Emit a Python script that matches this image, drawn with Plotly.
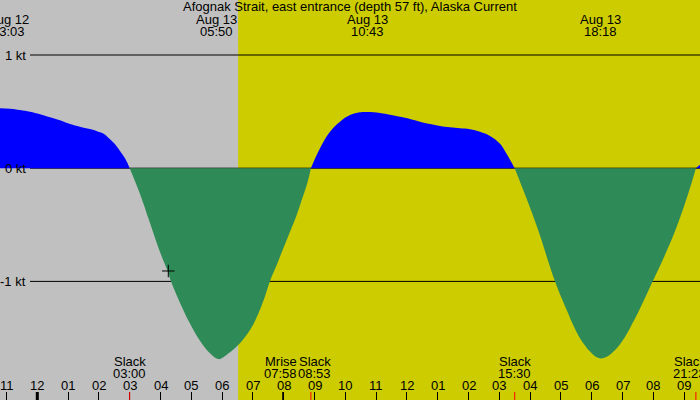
import numpy as np
import pandas as pd
import plotly.graph_objects as go

# ---- data (hours after midnight, Aug 13) ----
BASE = pd.Timestamp("2024-08-13 00:00")
hours = [-1.211, -0.886, -0.562, -0.237, 0.088, 0.412, 0.737, 1.062, 1.386, 1.711,
         2.036, 2.198, 2.360, 2.523, 2.685, 2.847, 3.000,
         3.334, 3.659, 3.984, 4.244, 4.341, 4.740, 5.013, 5.338, 5.607, 5.870,
         6.030, 6.190, 6.516, 6.906, 7.156, 7.370, 7.555, 7.773, 7.987, 8.205, 8.422,
         8.604, 8.779, 8.883,
         9.179, 9.503, 9.828, 10.153, 10.477, 10.717, 11.127, 11.451, 11.776,
         12.101, 12.425, 12.750, 13.075, 13.399, 13.724, 14.049, 14.373, 14.698,
         15.023, 15.240, 15.500,
         15.818, 16.224, 16.808, 17.188, 17.425, 17.727, 18.000, 18.150, 18.300,
         18.470, 18.649, 18.942, 19.266, 19.545, 19.981, 20.305, 20.760, 21.136, 21.383,
         21.516]
knots = [0.529, 0.526, 0.514, 0.499, 0.476, 0.450, 0.423, 0.390, 0.367, 0.346,
         0.317, 0.296, 0.255, 0.211, 0.152, 0.087, 0.0,
         -0.228, -0.484, -0.740, -0.917, -0.999, -1.253, -1.400, -1.547, -1.635, -1.686,
         -1.672, -1.640, -1.565, -1.430, -1.297, -1.149, -0.996, -0.855, -0.708, -0.561, -0.413,
         -0.266, -0.119, 0.0,
         0.176, 0.322, 0.411, 0.470, 0.494, 0.496, 0.488, 0.473, 0.455,
         0.435, 0.411, 0.390, 0.373, 0.361, 0.352, 0.344, 0.322, 0.285,
         0.215, 0.125, 0.0,
         -0.222, -0.517, -0.999, -1.253, -1.400, -1.547, -1.635, -1.668, -1.680,
         -1.668, -1.635, -1.547, -1.400, -1.253, -0.999, -0.811, -0.517, -0.222, 0.0,
         0.03]

x_range_h = [-1.211, 21.516]
sunrise_h = 6.52
hour_ticks = list(range(-1, 22))

levels = [1, 0, -1]
level_labels = ["1 kt", "0 kt", "-1 kt"]

peak_h = [-0.95, 5.833, 10.717, 18.300]
peak_day = ["Aug 12", "Aug 13", "Aug 13", "Aug 13"]
peak_time = ["23:03", "05:50", "10:43", "18:18"]

event_h = [3.000, 7.967, 8.883, 15.500, 21.383]
event_name = ["Slack", "Mrise", "Slack", "Slack", "Slack"]
event_time = ["03:00", "07:58", "08:53", "15:30", "21:23"]
event_shift = [0, -2, 4, 0, -6]

now_h = [4.253]
now_kt = [-0.908]

title = "Afognak Strait, east entrance (depth 57 ft), Alaska Current"

# ---- styling ----
W, H = 700, 400
GRAY = "#C0C0C0"
YELLOW = "#CCCC00"
BLUE = "#0000FF"
GREEN = "#2E8B57"
FONT = "Liberation Sans, Arial, sans-serif"
FS = 13
zero_px, px_per_kt = 168.2, 113.2
y_range = [(zero_px - H) / px_per_kt, zero_px / px_per_kt]


def t(h):
    return BASE + pd.to_timedelta(np.asarray(h, dtype=float), unit="h")


def py(p):
    return 1 - p / H


def fnt():
    return dict(size=FS, color="black", family=FONT)


times = t(hours)
fig = go.Figure()

# split the series into flood / ebb lobes at slack (zero) points
lobes, cur = [], [0]
for i in range(1, len(knots)):
    cur.append(i)
    if knots[i] == 0 and i != len(knots) - 1:
        lobes.append(cur)
        cur = [i]
lobes.append(cur)
for idx in lobes:
    vals = [knots[i] for i in idx]
    col = BLUE if sum(vals) > 0 else GREEN
    fig.add_trace(go.Scatter(x=[times[i] for i in idx], y=vals, mode="lines",
                             line=dict(color=col, width=0, shape="spline", smoothing=1.2),
                             fill="tozeroy", fillcolor=col, hoverinfo="skip",
                             showlegend=False))

fig.add_trace(go.Scatter(x=t(now_h), y=now_kt, mode="markers",
                         marker=dict(symbol="cross-thin", size=9,
                                     line=dict(color="black", width=1)),
                         showlegend=False, hoverinfo="skip"))

shapes = [dict(type="rect", xref="x", yref="paper", x0=t(x_range_h[0]), x1=t(sunrise_h),
               y0=0, y1=1, fillcolor=GRAY, line=dict(width=0), layer="below")]
for lv in levels:
    shapes.append(dict(type="line", xref="paper", yref="y", x0=30 / W, x1=1, y0=lv, y1=lv,
                       line=dict(color="black", width=1), layer="below"))
tick_h = 8 / H
shapes.append(dict(type="line", xref="x", yref="paper", x0=BASE, x1=BASE, y0=0, y1=tick_h,
                   line=dict(color="black", width=3)))
for h, nm in zip(event_h, event_name):
    shapes.append(dict(type="line", xref="x", yref="paper", x0=t(h), x1=t(h), y0=0, y1=tick_h,
                       line=dict(color="red" if nm == "Slack" else "black", width=1)))

ann = [dict(text=title, x=0.5, y=py(7), xref="paper", yref="paper", showarrow=False,
            yanchor="middle", font=fnt())]
for lv, lab in zip(levels, level_labels):
    ann.append(dict(text=lab, x=28 / W, y=lv, xref="paper", yref="y", xanchor="right",
                    yanchor="middle", showarrow=False, font=fnt()))
for h, d, tm in zip(peak_h, peak_day, peak_time):
    for txt, p in ((d, 19.5), (tm, 31.5)):
        ann.append(dict(text=txt, x=t(h), y=py(p), xref="x", yref="paper", showarrow=False,
                        yanchor="middle", font=fnt()))
for h, nm, tm, sh in zip(event_h, event_name, event_time, event_shift):
    for txt, p in ((nm, 361.5), (tm, 373.5)):
        ann.append(dict(text=txt, x=t(h), y=py(p), xref="x", yref="paper", showarrow=False,
                        xshift=sh, yanchor="middle", font=fnt()))
for ts in t(hour_ticks):
    ann.append(dict(text=ts.strftime("%I"), x=ts, y=py(385.5), xref="x", yref="paper",
                    showarrow=False, yanchor="middle", font=fnt()))

fig.update_layout(
    width=W, height=H, margin=dict(l=0, r=0, t=0, b=0, pad=0, autoexpand=False),
    plot_bgcolor=YELLOW, paper_bgcolor=YELLOW,
    shapes=shapes, annotations=ann, showlegend=False,
    xaxis=dict(type="date", range=[t(x_range_h[0]), t(x_range_h[1])],
               tick0=BASE, dtick=3600000, ticks="inside", ticklen=8, tickcolor="black",
               showticklabels=False,
               showgrid=False, zeroline=False, showline=False, automargin=False),
    yaxis=dict(range=y_range, visible=False, showgrid=False, zeroline=False),
)
fig.write_html("out.html", config={"displayModeBar": False, "staticPlot": True},
               post_script="document.body.style.margin='0';document.body.style.overflow='hidden';")
